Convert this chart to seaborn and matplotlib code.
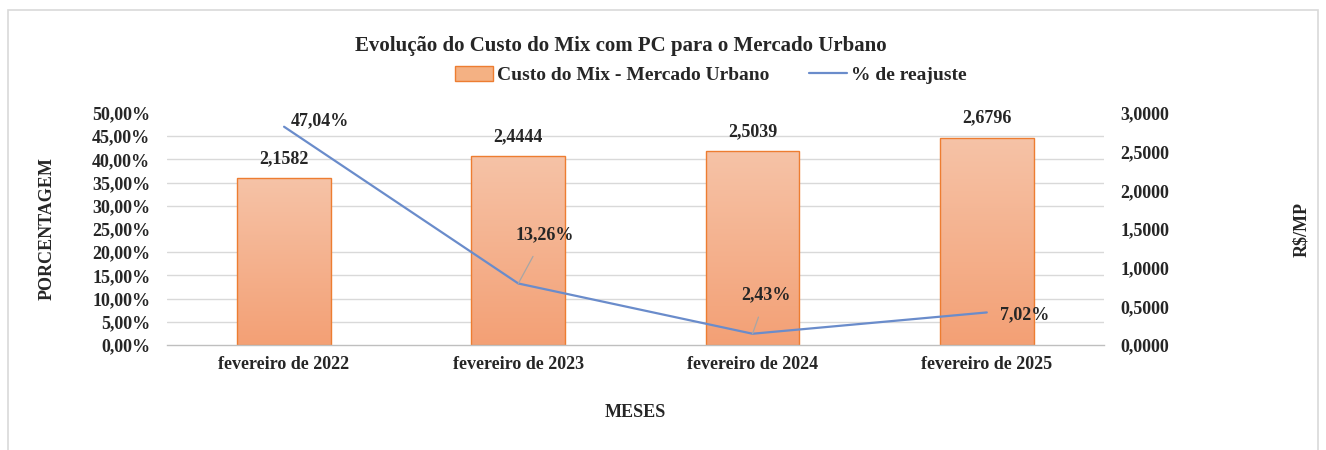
import numpy as np
import pandas as pd
import matplotlib
matplotlib.use('Agg')
import matplotlib.pyplot as plt
import seaborn as sns
from matplotlib.patches import Patch, Rectangle
from matplotlib.lines import Line2D
from matplotlib.ticker import FuncFormatter, MultipleLocator

meses = ['fevereiro de 2022', 'fevereiro de 2023', 'fevereiro de 2024', 'fevereiro de 2025']
custo_mix = [2.1582, 2.4444, 2.5039, 2.6796]
reajuste = [47.04, 13.26, 2.43, 7.02]
# offsets (pt) of the % labels
label_offsets = [(26, 4), (19, 35), (10, 28), (27, -2)]
leader = [False, True, True, False]

df = pd.DataFrame({'Mes': meses, 'Custo': custo_mix, 'Reajuste': reajuste})
df['pos'] = range(len(df))

sns.set_theme(style='white')
plt.rcParams['font.family'] = ['Liberation Serif', 'DejaVu Serif']
plt.rcParams['font.weight'] = 'bold'

bar_edge = '#ED7D31'
line_col = '#6A8CCB'
grid_col = '#D9D9D9'

fig = plt.figure(figsize=(13.26, 4.5), dpi=100)
ax = fig.add_axes([0.1259, 0.2333, 0.7066, 0.5156])
ax2 = ax.twinx()
ax.set_zorder(2)
ax.patch.set_visible(False)
ax2.set_zorder(1)

# bars on the R$/MP axis
sns.barplot(data=df, x='pos', y='Custo', ax=ax2, color='#F4B183', width=0.40,
            edgecolor=bar_edge, linewidth=1.0)

# vertical gradient inside each bar
grad = np.linspace(0, 1, 256).reshape(-1, 1)
cmap = matplotlib.colors.LinearSegmentedColormap.from_list('g', ['#F3A075', '#F6C3A7'])
for p in ax2.patches:
    x0, y0 = p.get_x(), p.get_y()
    w, h = p.get_width(), p.get_height()
    im = ax2.imshow(grad, extent=[x0, x0 + w, y0, y0 + h], origin='lower',
                    cmap=cmap, aspect='auto', zorder=p.get_zorder() + 0.1)
    im.set_clip_path(p)
    p.set_facecolor('none')
    p.set_zorder(p.get_zorder() + 0.2)
ax2.set_ylim(0, 3)

ax2.bar_label(ax2.containers[0], labels=[f'{v:.4f}'.replace('.', ',') for v in custo_mix],
              padding=8, fontsize=13, fontweight='bold')

# gridlines behind the bars (every 5% of the left axis)
ax2.yaxis.set_major_locator(MultipleLocator(0.5))
ax2.yaxis.set_minor_locator(MultipleLocator(0.3))
ax2.grid(which='minor', axis='y', color=grid_col, linewidth=1.0)
ax2.grid(which='major', axis='y', visible=False)
ax2.tick_params(axis='y', which='both', length=0, pad=12, labelsize=13)
ax2.yaxis.set_major_formatter(FuncFormatter(lambda v, _: f'{v:.4f}'.replace('.', ',')))
ax2.set_ylabel('R$/MP', fontsize=13, fontweight='bold', labelpad=89)

# line on the % axis
sns.lineplot(data=df, x='pos', y='Reajuste', ax=ax, color=line_col, linewidth=1.6)
ax.set_ylim(0, 50)
ax.yaxis.set_major_locator(MultipleLocator(5))
ax.yaxis.set_major_formatter(FuncFormatter(lambda v, _: f'{v:.2f}%'.replace('.', ',')))
ax.tick_params(axis='y', length=0, pad=12, labelsize=13)
ax.set_ylabel('PORCENTAGEM', fontsize=13, fontweight='bold', labelpad=26)

for i, (v, off, ld) in enumerate(zip(reajuste, label_offsets, leader)):
    txt = f'{v:.2f}%'.replace('.', ',')
    ax.annotate(txt, (df['pos'][i], v), xytext=off, textcoords='offset points',
                ha='center', va='center', fontsize=13, fontweight='bold',
                arrowprops=dict(arrowstyle='-', color='#A6A6A6', lw=0.9,
                                shrinkA=8, shrinkB=0) if ld else None)

# x axis
ax.set_xlim(-0.5, len(meses) - 0.5)
ax.set_xticks(df['pos'])
ax.set_xticklabels(meses, fontsize=13, fontweight='bold')
ax.set_xticks(np.arange(-0.5, len(meses), 1.0), minor=True)
ax.tick_params(axis='x', which='major', length=0, pad=8)
ax.tick_params(axis='x', which='minor', length=5, color='#BFBFBF', width=1)
ax.set_xlabel('MESES', fontsize=13, fontweight='bold', labelpad=22)
ax2.set_xlabel('')

for a in (ax, ax2):
    for s in a.spines.values():
        s.set_visible(False)
ax.spines['bottom'].set_visible(True)
ax.spines['bottom'].set_color('#BFBFBF')
ax.spines['bottom'].set_linewidth(1.0)

fig.text(0.468, 0.898, 'Evolução do Custo do Mix com PC para o Mercado Urbano',
         ha='center', va='center', fontsize=15, fontweight='bold')

handles = [Patch(facecolor='#F4B183', edgecolor=bar_edge, linewidth=1.0),
           Line2D([0], [0], color=line_col, linewidth=1.6)]
fig.legend(handles, ['Custo do Mix - Mercado Urbano', '% de reajuste'],
           loc='center', bbox_to_anchor=(0.536, 0.833), ncol=2, frameon=False,
           handlelength=2.0, handleheight=0.8, columnspacing=2.0,
           handletextpad=0.2, prop={'weight': 'bold', 'size': 14})

fig.patches.append(Rectangle((0.006, -0.05), 0.988, 1.028, transform=fig.transFigure,
                             fill=False, edgecolor='#D9D9D9', linewidth=1.2))

fig.savefig('out.png', dpi=100, facecolor='white')
